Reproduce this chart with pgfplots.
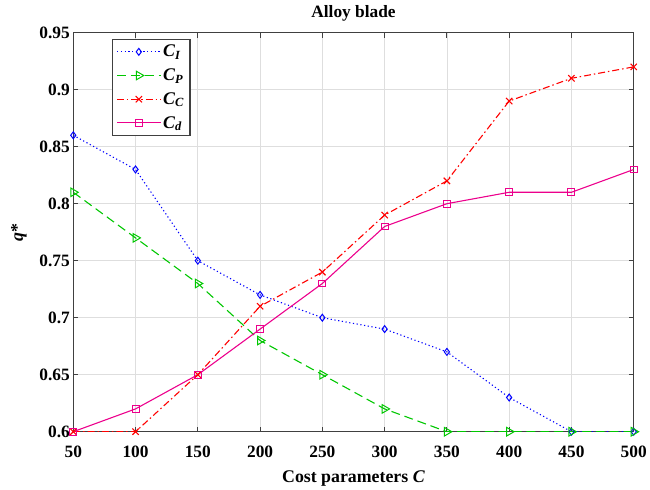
\documentclass[border=0pt]{standalone}
\usepackage{pgfplots}
\pgfplotsset{compat=1.18}
\usepackage{fontspec}
\setmainfont{Liberation Serif}
\newcommand{\sub}[2]{\textbf{\textit{#1}}\textsubscript{\textbf{\textit{#2}}}}
\definecolor{mgreen}{rgb}{0,0.78,0}
\definecolor{axgray}{rgb}{0.25,0.25,0.25}
\begin{document}
\begin{tikzpicture}
\path (-74pt,-50pt) rectangle (581pt,436pt);
\begin{axis}[
  at={(0pt,0pt)}, anchor=south west,
  scale only axis,
  width=566pt, height=403pt,
  xmin=50, xmax=500, ymin=0.6, ymax=0.95,
  xtick={50,100,150,200,250,300,350,400,450,500},
  xticklabels={50,100,150,200,250,300,350,400,450,500},
  ytick={0.6,0.65,0.7,0.75,0.8,0.85,0.9,0.95},
  yticklabels={0.6,0.65,0.7,0.75,0.8,0.85,0.9,0.95},
  ticklabel style={font=\bfseries\fontsize{17.5}{19}\selectfont, text=black},
  xticklabel style={yshift=-11pt},
  tick align=inside,
  major tick length=5pt,
  grid=major,
  grid style={black!13, line width=0.8pt},
  axis line style={axgray, line width=1.2pt},
  tick style={axgray, line width=1pt},
  title={\textbf{Alloy blade}},
  title style={font=\fontsize{17.5}{19}\selectfont, yshift=2pt},
  xlabel={\textbf{Cost parameters \textit{C}}},
  ylabel={\textbf{\textit{q}*}},
  label style={font=\fontsize{18}{20}\selectfont},
  xlabel style={yshift=-6pt},
  ylabel style={yshift=6pt},
  legend style={at={(0.069,0.985)}, anchor=north west, draw=axgray, line width=1.2pt, fill=white,
    font=\fontsize{18}{20}\selectfont, row sep=6.5pt, inner xsep=4pt, inner ysep=4pt},
  legend cell align=left,
  legend image code/.code={\draw[mark repeat=2,mark phase=2] plot coordinates {(0pt,0pt) (22pt,0pt) (44pt,0pt)};},
]
\addplot[blue, dash pattern=on 1.2pt off 2.6pt, line width=1.1pt, mark=diamond, mark size=3.5pt, mark options={solid, line width=1pt}]
 coordinates {(50,0.86) (100,0.83) (150,0.75) (200,0.72) (250,0.70) (300,0.69) (350,0.67) (400,0.63) (450,0.60) (500,0.60)};
\addlegendentry{\sub{C}{I}}
\addplot[mgreen, dash pattern=on 9pt off 5pt, line width=1.1pt, mark=triangle, mark size=5pt, mark options={solid, rotate=-90, line width=1pt}]
 coordinates {(50,0.81) (100,0.77) (150,0.73) (200,0.68) (250,0.65) (300,0.62) (350,0.60) (400,0.60) (450,0.60) (500,0.60)};
\addlegendentry{\sub{C}{P}}
\addplot[red, dash pattern=on 7pt off 3pt on 1.5pt off 3pt, line width=1.1pt, mark=x, mark size=4.5pt, mark options={solid, line width=1.1pt}]
 coordinates {(50,0.60) (100,0.60) (150,0.65) (200,0.71) (250,0.74) (300,0.79) (350,0.82) (400,0.89) (450,0.91) (500,0.92)};
\addlegendentry{\sub{C}{C}}
\addplot[magenta, solid, line width=1.1pt, mark=square, mark size=3.5pt, mark options={solid, line width=1pt}]
 coordinates {(50,0.60) (100,0.62) (150,0.65) (200,0.69) (250,0.73) (300,0.78) (350,0.80) (400,0.81) (450,0.81) (500,0.83)};
\addlegendentry{\sub{C}{d}}
\end{axis}
\end{tikzpicture}
\end{document}
